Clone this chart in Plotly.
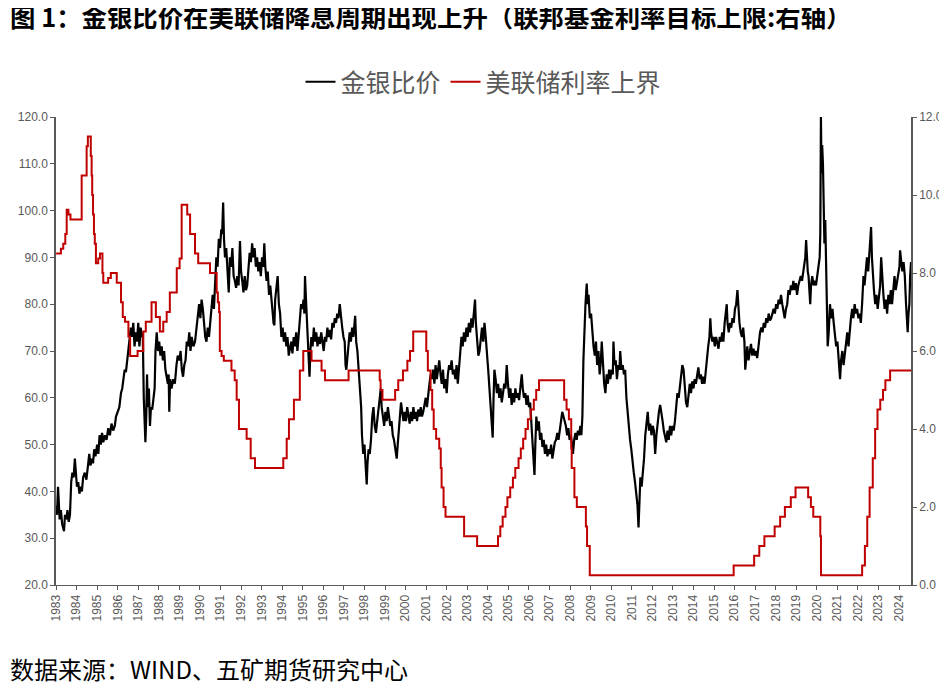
import plotly.graph_objects as go
from datetime import datetime, timedelta

# ---------------- data ----------------
# Gold/silver ratio (left axis): decimal year, value
gsr_year = [
 1983.00,1983.05,1983.10,1983.14,1983.18,1983.24,1983.30,1983.36,1983.39,1983.44,1983.50,1983.56,1983.62,1983.68,
 1983.74,1983.80,1983.86,1983.92,1983.96,1984.02,1984.08,1984.14,1984.20,1984.26,1984.32,1984.40,1984.48,1984.56,
 1984.62,1984.68,1984.74,1984.80,1984.86,1984.92,1985.00,1985.06,1985.12,1985.18,1985.24,1985.30,1985.38,1985.46,
 1985.54,1985.62,1985.70,1985.78,1985.86,1985.92,1986.00,1986.08,1986.16,1986.22,1986.28,1986.34,1986.40,1986.46,
 1986.52,1986.58,1986.64,1986.70,1986.76,1986.82,1986.88,1986.94,1987.00,1987.06,1987.12,1987.18,1987.22,1987.27,
 1987.31,1987.35,1987.39,1987.43,1987.47,1987.52,1987.57,1987.62,1987.68,1987.74,1987.80,1987.84,1987.90,1987.96,
 1988.02,1988.08,1988.14,1988.20,1988.26,1988.32,1988.38,1988.44,1988.48,1988.51,1988.55,1988.62,1988.70,1988.78,
 1988.86,1988.92,1989.00,1989.06,1989.12,1989.18,1989.24,1989.30,1989.36,1989.42,1989.48,1989.54,1989.60,1989.68,
 1989.76,1989.84,1989.90,1989.96,1990.02,1990.08,1990.14,1990.20,1990.26,1990.32,1990.38,1990.44,1990.50,1990.56,
 1990.62,1990.68,1990.74,1990.80,1990.86,1990.92,1990.98,1991.04,1991.08,1991.13,1991.17,1991.22,1991.28,1991.34,
 1991.40,1991.46,1991.52,1991.58,1991.64,1991.70,1991.76,1991.82,1991.88,1991.95,1992.00,1992.06,1992.12,1992.18,
 1992.24,1992.30,1992.36,1992.42,1992.48,1992.54,1992.60,1992.66,1992.72,1992.78,1992.84,1992.90,1992.96,1993.02,
 1993.08,1993.13,1993.18,1993.24,1993.30,1993.36,1993.42,1993.48,1993.54,1993.58,1993.62,1993.66,1993.72,1993.78,
 1993.84,1993.90,1993.96,1994.02,1994.08,1994.14,1994.20,1994.26,1994.32,1994.38,1994.44,1994.50,1994.56,1994.62,
 1994.68,1994.74,1994.80,1994.86,1994.92,1994.98,1995.04,1995.08,1995.11,1995.15,1995.20,1995.26,1995.30,1995.33,
 1995.37,1995.42,1995.48,1995.54,1995.60,1995.66,1995.72,1995.78,1995.84,1995.90,1995.96,1996.02,1996.08,1996.14,
 1996.20,1996.26,1996.32,1996.38,1996.44,1996.50,1996.56,1996.62,1996.68,1996.74,1996.80,1996.86,1996.92,1996.98,
 1997.04,1997.08,1997.12,1997.16,1997.22,1997.28,1997.34,1997.40,1997.46,1997.52,1997.55,1997.60,1997.66,1997.72,
 1997.78,1997.84,1997.88,1997.94,1998.00,1998.04,1998.08,1998.11,1998.15,1998.20,1998.26,1998.32,1998.38,1998.44,
 1998.50,1998.56,1998.62,1998.68,1998.74,1998.80,1998.84,1998.90,1998.96,1999.02,1999.08,1999.14,1999.20,1999.26,
 1999.32,1999.38,1999.44,1999.50,1999.57,1999.62,1999.68,1999.74,1999.78,1999.84,1999.90,1999.96,2000.02,2000.08,
 2000.14,2000.20,2000.26,2000.32,2000.38,2000.44,2000.50,2000.56,2000.62,2000.68,2000.74,2000.80,2000.86,2000.92,
 2000.98,2001.04,2001.10,2001.16,2001.22,2001.28,2001.34,2001.40,2001.46,2001.52,2001.58,2001.64,2001.70,2001.76,
 2001.82,2001.88,2001.94,2002.00,2002.06,2002.12,2002.18,2002.24,2002.30,2002.36,2002.42,2002.48,2002.54,2002.60,
 2002.66,2002.72,2002.78,2002.84,2002.90,2002.96,2003.02,2003.08,2003.14,2003.20,2003.26,2003.32,2003.38,2003.42,
 2003.48,2003.54,2003.60,2003.66,2003.72,2003.78,2003.84,2003.90,2003.96,2004.02,2004.08,2004.14,2004.20,2004.24,
 2004.28,2004.32,2004.38,2004.44,2004.50,2004.56,2004.62,2004.68,2004.74,2004.80,2004.86,2004.92,2004.98,2005.04,
 2005.10,2005.16,2005.22,2005.28,2005.34,2005.40,2005.46,2005.52,2005.58,2005.65,2005.70,2005.76,2005.82,2005.88,
 2005.94,2006.00,2006.06,2006.12,2006.18,2006.22,2006.27,2006.31,2006.36,2006.42,2006.48,2006.54,2006.60,2006.66,
 2006.72,2006.78,2006.84,2006.90,2006.96,2007.02,2007.08,2007.14,2007.20,2007.26,2007.32,2007.38,2007.44,2007.50,
 2007.56,2007.62,2007.68,2007.74,2007.80,2007.86,2007.92,2007.98,2008.04,2008.10,2008.14,2008.20,2008.26,2008.32,
 2008.38,2008.44,2008.50,2008.55,2008.60,2008.65,2008.70,2008.75,2008.81,2008.86,2008.90,2008.96,2009.02,2009.08,
 2009.14,2009.20,2009.26,2009.32,2009.38,2009.44,2009.50,2009.54,2009.60,2009.66,2009.72,2009.78,2009.84,2009.90,
 2009.96,2010.02,2010.08,2010.11,2010.16,2010.22,2010.28,2010.34,2010.40,2010.44,2010.50,2010.56,2010.62,2010.68,
 2010.74,2010.80,2010.86,2010.92,2010.98,2011.04,2011.10,2011.16,2011.22,2011.28,2011.33,2011.37,2011.42,2011.48,
 2011.54,2011.60,2011.66,2011.72,2011.78,2011.84,2011.90,2011.96,2012.02,2012.08,2012.14,2012.20,2012.26,2012.32,
 2012.38,2012.44,2012.50,2012.56,2012.62,2012.68,2012.74,2012.80,2012.86,2012.92,2012.98,2013.04,2013.10,2013.16,
 2013.22,2013.28,2013.34,2013.40,2013.46,2013.52,2013.58,2013.64,2013.70,2013.76,2013.82,2013.88,2013.94,2014.00,
 2014.06,2014.12,2014.18,2014.24,2014.30,2014.36,2014.42,2014.48,2014.54,2014.60,2014.66,2014.72,2014.78,2014.82,
 2014.86,2014.92,2014.98,2015.04,2015.10,2015.16,2015.22,2015.28,2015.34,2015.40,2015.46,2015.52,2015.58,2015.62,
 2015.66,2015.72,2015.78,2015.84,2015.90,2015.96,2016.02,2016.08,2016.14,2016.18,2016.24,2016.30,2016.36,2016.42,
 2016.48,2016.52,2016.56,2016.62,2016.68,2016.74,2016.80,2016.86,2016.92,2016.98,2017.04,2017.10,2017.16,2017.24,
 2017.30,2017.36,2017.42,2017.48,2017.54,2017.60,2017.66,2017.72,2017.78,2017.84,2017.90,2017.96,2018.02,2018.08,
 2018.14,2018.20,2018.26,2018.32,2018.38,2018.44,2018.50,2018.56,2018.62,2018.68,2018.74,2018.80,2018.86,2018.92,
 2018.98,2019.04,2019.10,2019.16,2019.22,2019.28,2019.34,2019.40,2019.44,2019.48,2019.52,2019.56,2019.60,2019.64,
 2019.68,2019.72,2019.78,2019.84,2019.90,2019.96,2020.02,2020.08,2020.14,2020.17,2020.20,2020.23,2020.26,2020.30,
 2020.33,2020.37,2020.41,2020.45,2020.49,2020.53,2020.58,2020.64,2020.70,2020.76,2020.82,2020.88,2020.94,2021.00,
 2021.06,2021.10,2021.13,2021.18,2021.24,2021.30,2021.36,2021.42,2021.48,2021.54,2021.60,2021.66,2021.72,2021.78,
 2021.84,2021.90,2021.96,2022.02,2022.08,2022.14,2022.20,2022.27,2022.32,2022.38,2022.44,2022.50,2022.56,2022.60,
 2022.64,2022.68,2022.72,2022.78,2022.84,2022.90,2022.96,2023.02,2023.08,2023.13,2023.18,2023.24,2023.30,2023.36,
 2023.42,2023.48,2023.54,2023.60,2023.66,2023.72,2023.78,2023.84,2023.90,2023.96,2024.02,2024.05,2024.10,2024.16,
 2024.22,2024.28,2024.34,2024.38,2024.42,2024.46,2024.50,2024.54,2024.58,
]
gsr_value = [
 37,35,41,38,34,36,33,32,31.5,35,34,36,33.5,35,
 42,44,43,47,44,41,42,39.5,41,40,43,44,42.5,46,
 48,45.5,47,46,49,47.5,50,48,52,50,52.5,50.5,52,51,
 53.5,52,54.5,53,54,56,57,58,61,62,64,66,65.5,68,
 70,72,75,73,76,71,74,72,76,71,75,73,74,60,
 54,50.5,56,65,58,62,54,58,57.5,60,62,70,74,70,
 72,69,71,68,70,66,64,63,65,57,64,62,64,63,
 67,69,68,70,66,64.5,67,68,72,71,74,70,73,71,
 72,75,78,80,77,81,79,76,73,72,75,73,76,80,
 82,79,86,90,88,94,92,96,95,101.7,94,90,92,87,
 82.5,90,88,92,86,85,83.5,86,84,93.5,87,85,82.5,86,
 83,84,88,91,89,93,90,92,88,90,87,89,86,90,
 88,93,88,85,87,82,84,80,78,76,75.5,81,84,86,
 80,78,73,75,72,74,71,73,69,70.5,72,69.5,73,71,
 74,70,73,78,80,79,81,78,86,82,76,72,68,64.5,
 70,73,71,75,72,74,71,73,71.5,74,72,70,73,72,
 75,73,74.5,72.5,76,75,77,76,78,77,80,77,75,73,
 72,67,66,68,72,74,72,75,73,76,77.5,72,70,66,
 62,58,52,48,50,46,43,41.5,46,49,48,51,56,58,
 54,52.5,55,57,60,62,58,56,54,57,55,58,56,54,
 55,52,51,49,47,50,53,56,59,57,55,57,55,58,
 56,54.5,57,55,58,55.5,57,55,57.5,56,58,56,57,59,
 60,58,61,63,65,64,66,63,67,64,66,68,65,63,
 66,62,64,61,65,67,66,68,65,66,64,67,63,66,
 70,73,71,74,72,75,73,76,74,77,75,78,81,76,
 72,69,70,73,75,72,76,73,70,66,62,58,55,51.5,
 60,66,64,61,63,60,62,59,61,63,62,67,63,60,
 62,58.5,61,59,62,60,61,59.5,62,65,62,60,61,58.5,
 60.5,58,59,55,51,47,43.5,50,56,53,55,51,52.5,49.5,
 51,48,50,47.5,49,48,50,47,49,50.5,51,52.5,51,53,
 55,57,56,55,54,52,53.5,51,52,50,48,51,52.5,51,
 53,52,54,52,56,68,76,80,84.4,80,82,77,78,73,
 71,69,72,67,70,65,68,72,66,63,61,65,63,66,
 64,66,65,72,67,68,64,67,66,70,66,67,65,66,
 60,57,53,51,49,46,44,42,40,37,32.3,40,43,41,
 44,47,52,55,57,53,54.5,52,54,53,48,52,55,57,
 58.5,57,55,53,52,50.5,53,51,54,52,54,53,55,58,
 61,60,62,64,67,66,62,59,58,61,63,61,63.5,62,
 64,63,65,66.5,64,65,63,64.5,63,66,69,71,73,77,
 74,72,73,71,73,72,70.5,73,72,74,72,76,78,80,
 76,74,76,75,77,76,79,80,83,79,76,74,73,75,
 72,66,69,71,68,70,71.5,69,70.5,69,70,68.5,71,74,
 75,74,76,75,77,76,78,76.5,77,78,79,78,80,79,
 81,80,82,80,78,77,79,80,83,82,84,83,85,83,
 84.5,82,84,85,86,85,87,88,90,93.7,90,87,86,82,
 80,84,86,84,85,84,86,88.5,90,95,120,108,114,110,
 105,93,98,90,78,71,74,80,77,79,76,74,71,72,
 69,66,64,68,70,67,69,72,74,71,75,77,79,77,
 80,78,79,77,78,76,80,86,84,88,90,87,91,93,
 96.5,90,86,83,80,82,79,81,84,90,85,82,79,81,
 78,82,80,83,80,84,86,83,85,86,88,91.5,89,87,
 89,86,80,76,74,78,80,86,89,
]

# Fed funds target upper bound (right axis): change dates and new levels
fed_date = [
 "1983-01-03","1983-03-29","1983-05-10","1983-06-15","1983-07-10","1983-08-10","1983-09-15",
 "1984-04-01","1984-06-28","1984-07-20","1984-09-10","1984-09-25","1984-10-05","1984-10-20",
 "1984-11-05","1984-11-20","1984-12-10","1985-01-20","1985-02-20","1985-04-05","1985-04-20",
 "1985-07-15","1985-09-01","1985-12-15","1986-03-01","1986-04-01","1986-05-10","1986-07-10",
 "1986-08-10","1986-12-20","1987-04-01","1987-05-15","1987-08-25","1987-11-10","1988-01-20",
 "1988-03-20","1988-05-20","1988-07-15","1988-11-15","1989-01-05","1989-02-10","1989-05-20",
 "1989-07-10","1989-10-05","1989-12-01","1990-06-28","1990-10-25","1990-11-15","1990-12-07",
 "1990-12-20","1991-01-20","1991-03-01","1991-07-15","1991-09-10","1991-10-15","1991-11-25",
 "1992-04-09","1992-06-20","1992-09-05","1994-01-20","1994-03-22","1994-05-01","1994-07-28",
 "1994-11-10","1995-01-10","1995-06-06","1995-12-01","1996-01-31","1997-03-25","1998-09-29",
 "1998-10-15","1998-11-17","1999-06-30","1999-08-24","1999-11-16","2000-02-02","2000-03-21",
 "2000-05-16","2001-01-03","2001-01-31","2001-03-20","2001-04-18","2001-05-15","2001-06-27",
 "2001-08-21","2001-09-17","2001-10-02","2001-11-06","2001-12-11","2002-11-06","2003-06-25",
 "2004-06-30","2004-08-10","2004-09-21","2004-11-10","2004-12-14","2005-02-02","2005-03-22",
 "2005-05-03","2005-06-30","2005-08-09","2005-09-20","2005-11-01","2005-12-13","2006-01-31",
 "2006-03-28","2006-05-10","2006-06-29","2007-09-18","2007-10-31","2007-12-11","2008-01-22",
 "2008-01-30","2008-03-18","2008-04-30","2008-10-08","2008-10-29","2008-12-16","2015-12-16",
 "2016-12-14","2017-03-15","2017-06-14","2017-12-13","2018-03-21","2018-06-13","2018-09-26",
 "2018-12-19","2019-07-31","2019-09-18","2019-10-30","2020-03-03","2020-03-15","2022-03-16",
 "2022-05-04","2022-06-15","2022-07-27","2022-09-21","2022-11-02","2022-12-14","2023-02-01",
 "2023-03-22","2023-05-03","2023-07-26","2024-07-31",
]
fed_rate = [
 8.5,8.625,8.75,9.0,9.625,9.5,9.375,
 10.5,11.25,11.5,11.0,10.5,10.0,9.5,
 9.0,8.75,8.25,8.375,8.5,8.0,7.75,
 7.875,8.0,7.75,7.25,6.875,6.75,6.375,
 5.875,6.0,6.5,6.75,7.25,6.875,6.5,
 6.75,7.0,7.5,8.125,8.375,9.75,9.5,
 9.0,8.5,8.25,8.0,7.5,7.25,7.0,
 6.0,5.875,5.75,5.5,5.25,4.75,4.0,
 3.75,3.25,3.0,3.25,3.75,4.25,4.75,
 5.5,6.0,5.75,5.5,5.25,5.5,5.25,
 5.0,4.75,5.0,5.25,5.5,5.75,6.0,
 6.5,6.0,5.5,5.0,4.5,4.0,3.75,
 3.5,3.0,2.5,2.0,1.75,1.25,1.0,
 1.25,1.5,1.75,2.0,2.25,2.5,2.75,
 3.0,3.25,3.5,3.75,4.0,4.25,4.5,
 4.75,5.0,5.25,4.75,4.5,4.25,3.5,
 3.0,2.25,2.0,1.5,1.0,0.25,0.5,
 0.75,1.0,1.25,1.5,1.75,2.0,2.25,
 2.5,2.25,2.0,1.75,1.25,0.25,0.5,
 1.0,1.75,2.5,3.25,4.0,4.5,4.75,
 5.0,5.25,5.5,5.5,
]

left_ticks = [20, 30, 40, 50, 60, 70, 80, 90, 100, 110, 120]
right_ticks = [0, 2, 4, 6, 8, 10, 12]

title_text = "图 1：金银比价在美联储降息周期出现上升（联邦基金利率目标上限:右轴）"
source_text = "数据来源：WIND、五矿期货研究中心"
name_gsr = "金银比价"
name_fed = "美联储利率上界"


def dec_to_date(y):
    yr = int(y)
    start = datetime(yr, 1, 1)
    days = (datetime(yr + 1, 1, 1) - start).days
    return (start + timedelta(days=(y - yr) * days)).strftime("%Y-%m-%d")


gsr_date = [dec_to_date(y) for y in gsr_year]

# ---------------- figure ----------------
# The page body keeps its default 8px margin, so the figure is 8px smaller
# and every position below is measured from the figure's own corner.
W, H = 939, 680
L, T, R, B = 48, 109, 36, 103
PW, PH = W - L - R, H - T - B

fig = go.Figure()
fig.add_trace(go.Scatter(
    x=gsr_date, y=gsr_value, name=name_gsr, mode="lines",
    line=dict(color="#000000", width=2.2), yaxis="y"))
fig.add_trace(go.Scatter(
    x=fed_date, y=fed_rate, name=name_fed, mode="lines",
    line=dict(color="#C00000", width=2, shape="hv"), yaxis="y2"))

axis_font = dict(family="Liberation Sans, Arial, sans-serif", size=12, color="#595959")
cjk = "Noto Sans CJK SC, sans-serif"

fig.update_layout(
    width=W, height=H,
    margin=dict(l=L, r=R, t=T, b=B, pad=0),
    paper_bgcolor="white", plot_bgcolor="white",
    showlegend=True,
    legend=dict(orientation="h", x=0.5, xanchor="center", y=(PH + 35) / PH, yanchor="middle",
                font=dict(family=cjk, size=25, color="#595959"),
                itemwidth=30, tracegroupgap=0, bgcolor="rgba(0,0,0,0)"),
    xaxis=dict(type="date", range=["1983-01-01", "2024-07-31"], automargin=False,
               tick0="1983-01-01", dtick="M12", tickformat="%Y", tickangle=-90,
               ticks="outside", ticklen=4, tickcolor="#595959",
               showline=True, linecolor="#595959", linewidth=1,
               showgrid=False, zeroline=False, tickfont=axis_font),
    yaxis=dict(range=[20, 120], tickvals=left_ticks, tickformat=".1f", automargin=False,
               ticks="outside", ticklen=4, tickcolor="#595959",
               showline=True, linecolor="#595959", linewidth=1.5,
               showgrid=False, zeroline=False, tickfont=axis_font),
    yaxis2=dict(range=[0, 12], tickvals=right_ticks, tickformat=".1f", automargin=False,
                overlaying="y", side="right",
                ticks="outside", ticklen=4, tickcolor="#595959",
                showline=True, linecolor="#595959", linewidth=1.5,
                showgrid=False, zeroline=False, tickfont=axis_font),
    annotations=[
        dict(text="<b>" + title_text + "</b>", xref="paper", yref="paper",
             x=-L / PW, y=(PH + T - 8) / PH, xanchor="left", yanchor="middle",
             showarrow=False, font=dict(family=cjk, size=25.4, color="#000000")),
        dict(text=source_text, xref="paper", yref="paper",
             x=-L / PW, y=-(660 - (T + PH)) / PH, xanchor="left", yanchor="middle",
             showarrow=False, font=dict(family=cjk, size=24, color="#000000")),
    ],
)

fig.write_html("out.html")
